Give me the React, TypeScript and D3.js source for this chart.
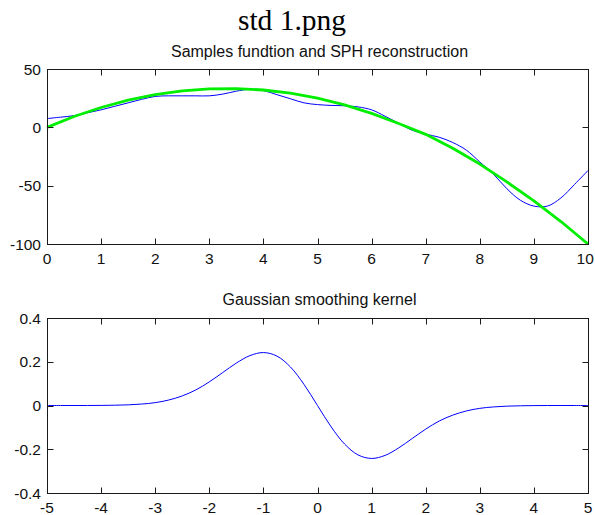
import React from "react";
import * as d3 from "d3";

// ---------- data ----------
const sampleX = [0, 0.5, 1, 1.5, 2, 2.5, 3, 3.5, 4, 4.5, 5, 5.5, 6, 6.5, 7, 7.5, 8, 8.5, 9, 9.5, 10];
const sampleY = [0, 9.25, 17, 23.25, 28, 31.25, 33, 33.25, 32, 29.25, 25, 19.25, 12, 3.25, -6, -18, -31.5, -46.75, -63, -80.75, -100];

const sphX = [0, 0.25, 0.5, 0.75, 1, 1.25, 1.5, 1.75, 2, 2.25, 2.5, 2.75, 3, 3.25, 3.5, 3.75, 4, 4.25, 4.5, 4.75, 5, 5.25, 5.5, 5.75, 6, 6.25, 6.5, 6.75, 7, 7.25, 7.5, 7.75, 8, 8.25, 8.5, 8.75, 9, 9.25, 9.5, 9.75, 10];
const sphY = [7.5, 8.7, 10, 12.5, 15, 18, 21, 24, 26.5, 27, 27, 27, 27, 28.5, 31, 32.6, 31.5, 28, 24.5, 21, 19.5, 18.8, 18.5, 17.5, 15, 9.5, 3.5, -2.5, -5.8, -8.5, -13, -19.5, -29.7, -40, -52.6, -62.5, -67.5, -67.5, -60.5, -49, -37];

const kernelX = [-5, -4.75, -4.5, -4.25, -4, -3.75, -3.5, -3.25, -3, -2.75, -2.5, -2.25, -2, -1.75, -1.5, -1.25, -1, -0.75, -0.5, -0.25, 0, 0.25, 0.5, 0.75, 1, 1.25, 1.5, 1.75, 2, 2.25, 2.5, 2.75, 3, 3.25, 3.5, 3.75, 4, 4.25, 4.5, 4.75, 5];
const kernelY = [0, 0, 0, 0.0001, 0.0005, 0.0013, 0.003, 0.0066, 0.013, 0.025, 0.044, 0.071, 0.108, 0.151, 0.194, 0.228, 0.242, 0.226, 0.176, 0.0967, 0, -0.0967, -0.176, -0.226, -0.242, -0.228, -0.194, -0.151, -0.108, -0.071, -0.044, -0.025, -0.013, -0.0066, -0.003, -0.0013, -0.0005, -0.0001, 0, 0, 0];

const topXTicks = [0, 1, 2, 3, 4, 5, 6, 7, 8, 9, 10];
const topYTicks = [50, 0, -50, -100];
const botXTicks = [-5, -4, -3, -2, -1, 0, 1, 2, 3, 4, 5];
const botYTicks = [0.4, 0.2, 0, -0.2, -0.4];

const mainTitle = "std 1.png";
const topTitle = "Samples fundtion and SPH reconstruction";
const botTitle = "Gaussian smoothing kernel";

// ---------- layout ----------
const W = 595;
const H = 515;
const FONT = "'Liberation Sans', Arial, sans-serif";
const AX = "#1a1a1a";
const TICK = 6;

type Series = { xs: number[]; ys: number[]; color: string; width: number; curve: d3.CurveFactory };

function Panel(props: {
  x0: number; x1: number; y0: number; y1: number;
  xDomain: [number, number]; yDomain: [number, number];
  xTicks: number[]; yTicks: number[];
  title: string; titleY: number;
  series: Series[]; id: string;
}) {
  const { x0, x1, y0, y1, xDomain, yDomain, xTicks, yTicks, title, titleY, series, id } = props;
  const xs = d3.scaleLinear().domain(xDomain).range([x0, x1]);
  const ys = d3.scaleLinear().domain(yDomain).range([y1, y0]);
  const fmt = (v: number) => (Math.abs(v) < 1e-9 ? "0" : String(v));
  return (
    <g>
      <defs>
        <clipPath id={id}>
          <rect x={x0 - 1} y={y0 - 1} width={x1 - x0 + 2} height={y1 - y0 + 2} />
        </clipPath>
      </defs>
      <text x={(x0 + x1) / 2 + 2} y={titleY} textAnchor="middle" fontFamily={FONT} fontSize={16} fill="#111">
        {title}
      </text>
      <g clipPath={`url(#${id})`}>
        {series.map((s, i) => {
          const line = d3
            .line<number>()
            .x((_, j) => xs(s.xs[j]))
            .y((d) => ys(d))
            .curve(s.curve);
          return (
            <path key={i} d={line(s.ys) || ""} fill="none" stroke={s.color} strokeWidth={s.width} strokeLinejoin="round" />
          );
        })}
      </g>
      <rect x={x0 + 0.5} y={y0 + 0.5} width={x1 - x0} height={y1 - y0} fill="none" stroke={AX} strokeWidth={1} />
      {xTicks.map((t) => {
        const px = Math.round(xs(t)) + 0.5;
        const label = fmt(t);
        // keep the widest right-edge label inside the 595px page
        const lx = Math.min(xs(t), W - 1 - label.length * 4.4);
        return (
          <g key={"x" + t}>
            <line x1={px} x2={px} y1={y1 + 0.5} y2={y1 + 0.5 - TICK} stroke={AX} />
            <line x1={px} x2={px} y1={y0 + 0.5} y2={y0 + 0.5 + TICK} stroke={AX} />
            <text x={lx} y={y1 + 20} textAnchor="middle" fontFamily={FONT} fontSize={15.5} fill="#111">
              {label}
            </text>
          </g>
        );
      })}
      {yTicks.map((t) => {
        const py = Math.round(ys(t)) + 0.5;
        return (
          <g key={"y" + t}>
            <line x1={x0 + 0.5} x2={x0 + 0.5 + TICK} y1={py} y2={py} stroke={AX} />
            <line x1={x1 + 0.5} x2={x1 + 0.5 - TICK} y1={py} y2={py} stroke={AX} />
            <text x={x0 - 6} y={ys(t) + 5.5} textAnchor="end" fontFamily={FONT} fontSize={15.5} fill="#111">
              {fmt(t)}
            </text>
          </g>
        );
      })}
    </g>
  );
}

export default function App() {
  return (
    <svg width={W} height={H} style={{ position: "absolute", left: 0, top: 0, background: "#fff" }}>
      <rect x={0} y={0} width={W} height={H} fill="#fff" />
      <text x={292} y={30} textAnchor="middle" fontFamily="'Liberation Serif', 'Times New Roman', serif" fontSize={29.5} fill="#000">
        {mainTitle}
      </text>
      <Panel
        id="clipTop"
        x0={47} x1={588} y0={69} y1={244}
        xDomain={[0, 10]} yDomain={[-100, 50]}
        xTicks={topXTicks} yTicks={topYTicks}
        title={topTitle} titleY={56.5}
        series={[
          { xs: sphX, ys: sphY, color: "#0000ff", width: 1, curve: d3.curveCatmullRom },
          { xs: sampleX, ys: sampleY, color: "#00ee00", width: 2.8, curve: d3.curveLinear },
        ]}
      />
      <Panel
        id="clipBot"
        x0={47} x1={588} y0={318} y1={493}
        xDomain={[-5, 5]} yDomain={[-0.4, 0.4]}
        xTicks={botXTicks} yTicks={botYTicks}
        title={botTitle} titleY={305}
        series={[{ xs: kernelX, ys: kernelY, color: "#0000ff", width: 1, curve: d3.curveCatmullRom }]}
      />
    </svg>
  );
}
